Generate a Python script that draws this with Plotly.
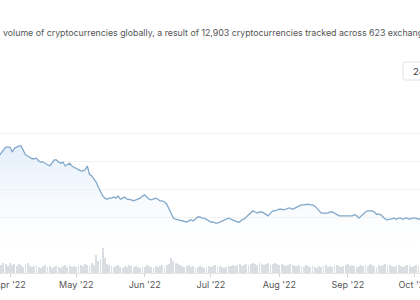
import pandas as pd
import plotly.graph_objects as go

# ---- data ----
start_date = "2022-03-27"

# total crypto market cap, trillions USD (daily)
market_cap = [
    2.10, 2.15, 2.21, 2.26, 2.26,
    2.26, 2.17, 2.24, 2.26, 2.28, 2.28, 2.21, 2.12, 2.10, 2.08,
    2.05, 2.05, 2.06, 2.01, 1.99, 1.99, 1.97, 1.94, 1.92, 1.97,
    2.03, 2.03, 1.99, 1.97, 1.99, 1.92, 1.94, 1.97, 1.92, 1.90,
    1.88, 1.85, 1.83, 1.83, 1.85, 1.92, 1.77, 1.74, 1.68,
    1.63, 1.54, 1.47, 1.38, 1.34, 1.32,
    1.34, 1.34, 1.36, 1.34, 1.38, 1.32, 1.34, 1.36, 1.32, 1.32, 1.31, 1.29, 1.31, 1.32, 1.34,
    1.38, 1.40, 1.36, 1.32, 1.31, 1.32, 1.34, 1.32, 1.29, 1.29, 1.27, 1.23,
    1.14, 1.05, 0.98, 0.96, 0.95, 0.93,
    0.93, 0.91, 0.91, 0.93, 0.95, 0.93, 0.96, 1.00, 1.00, 0.98, 0.98, 0.96, 0.93, 0.91, 0.91,
    0.89, 0.89, 0.91, 0.93, 0.95, 0.96, 0.98,
    0.96, 0.95, 0.93, 0.91, 0.91, 0.95, 0.96, 1.00, 1.04, 1.07, 1.11, 1.09, 1.07, 1.09, 1.09,
    1.07, 1.05, 1.02, 1.07, 1.11, 1.11, 1.13, 1.14, 1.14, 1.13, 1.14, 1.16, 1.16, 1.14, 1.16,
    1.18, 1.20, 1.22, 1.22, 1.23, 1.23, 1.22, 1.22, 1.20, 1.16, 1.11, 1.07, 1.07, 1.07, 1.07,
    1.09, 1.09, 1.07, 1.04, 1.02, 1.02, 1.02, 1.02, 1.02, 1.02, 1.02, 1.04, 1.02, 0.98, 1.02, 1.05,
    1.09, 1.11, 1.11, 1.11, 1.09, 1.05, 1.05, 1.04, 1.00, 0.96, 0.95, 0.96, 0.96, 0.98, 0.96,
    0.98, 0.98, 0.96, 0.98, 0.98, 0.96, 0.98, 0.98, 0.98, 0.96, 0.98, 0.98,
]

# total trading volume, billions USD (daily)
volume = [
    99, 88, 110, 99, 77,
    110, 88, 99, 77, 99, 88, 66, 99, 110, 77,
    66, 77, 88, 66, 55, 77, 88, 66, 77, 55,
    66, 77, 66, 55, 77, 88, 66, 77, 66, 77,
    66, 77, 88, 77, 99, 88, 77, 110, 88,
    198, 132, 154, 275, 165, 99,
    88, 77, 66, 77, 88, 66, 55, 77, 66, 88, 77, 66, 77, 66, 55,
    77, 66, 88, 77, 66, 55, 77, 66, 77, 88, 66, 88,
    99, 165, 132, 110, 99, 88,
    77, 66, 77, 88, 66, 77, 55, 66, 77, 66, 55, 66, 77, 66, 77, 88, 66, 77, 66, 55, 66, 77,
    77, 88, 77, 88, 99, 77, 88, 99, 88, 99, 110, 99, 88, 110, 99,
    88, 99, 110, 88, 99, 110, 99, 88, 99, 88, 77, 88, 99, 88, 77,
    77, 88, 77, 66, 88, 77, 66, 77, 66, 55, 77, 66, 77, 88, 66, 77,
    66, 77, 88, 77, 66, 77, 88, 99, 77, 88, 77, 66, 77, 88, 77,
    88, 77, 99, 88, 77, 66, 88, 77, 88, 99, 77, 88, 77, 66,
    77, 88, 77, 66, 77, 88, 77, 66, 77, 88, 77, 66, 77,
]

dates = pd.date_range(start_date, periods=len(market_cap), freq="D")

header_text = ("volume of cryptocurrencies globally, a result of 12,903 "
               "cryptocurrencies tracked across 623 exchanges.")
button_text = "24h"

x_range = ["2022-03-27 11:17", "2022-10-03 16:48"]

# ---- figure ----
fig = go.Figure()

fig.add_trace(go.Bar(
    x=dates, y=volume, xaxis="x", yaxis="y2",
    marker=dict(color="#dadde1", line=dict(width=0)),
    width=0.4 * 86400000,
    hoverinfo="skip",
))

fig.add_trace(go.Scatter(
    x=dates, y=market_cap, xaxis="x", yaxis="y",
    mode="lines",
    line=dict(color="#82a8ca", width=1.3),
    fill="tozeroy",
    fillgradient=dict(
        type="vertical",
        colorscale=[[0, "rgba(235,243,251,0)"], [1, "rgba(205,225,246,0.55)"]],
        start=0.49, stop=2.3,
    ),
    hoverinfo="skip",
))

fig.update_layout(
    width=420, height=300,
    margin=dict(l=0, r=0, t=0, b=0),
    paper_bgcolor="white", plot_bgcolor="white",
    showlegend=False,
    bargap=0,
    font=dict(family="Inter, Arial, sans-serif", color="#555"),
    xaxis=dict(
        type="date", range=x_range, domain=[0, 1],
        anchor="y2",
        showgrid=False, zeroline=False,
        showline=True, linecolor="#e6e6e6", linewidth=1,
        ticks="outside", ticklen=3, tickcolor="#d2d2d2", tickwidth=1,
        dtick="M1", tick0="2022-01-01", tickformat="%b '%y",
        tickfont=dict(size=9, color="#555"),
        ticklabeloverflow="allow",
        automargin=False,
    ),
    yaxis=dict(
        domain=[0.1823, 0.6337], range=[0.49, 2.93],
        anchor="x",
        dtick=0.5, tick0=0.5,
        showgrid=True, gridcolor="#f3f3f3", gridwidth=1,
        zeroline=False, showticklabels=False, ticks="",
        automargin=False,
    ),
    yaxis2=dict(
        domain=[0.09, 0.18], range=[0, 297],
        anchor="x",
        showgrid=False, zeroline=False, showticklabels=False, ticks="",
        automargin=False,
    ),
    annotations=[
        dict(text=header_text, xref="paper", yref="paper", x=0.003, y=0.89,
             xanchor="left", yanchor="middle", showarrow=False,
             font=dict(size=8.8, color="#555")),
        dict(text=button_text, xref="paper", yref="paper", x=411 / 420, y=0.7633,
             xanchor="left", yanchor="middle", showarrow=False,
             font=dict(size=9.5, color="#333")),
    ],
    shapes=[
        dict(type="path", xref="paper", yref="paper",
             path="M 0.9643,0.7933 L 1.06,0.7933 L 1.06,0.7333 L 0.9643,0.7333 "
                  "Q 0.9595,0.7333 0.9595,0.745 L 0.9595,0.7817 Q 0.9595,0.7933 0.9643,0.7933 Z",
             line=dict(color="#e2e2e2", width=1), fillcolor="white"),
    ],
)

fig.write_html("out.html")
